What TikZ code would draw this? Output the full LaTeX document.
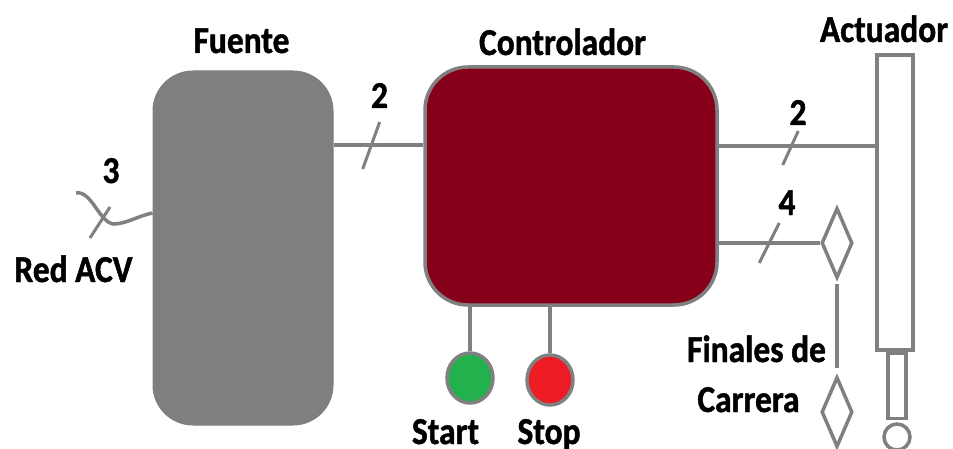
\documentclass[tikz,border=0pt]{standalone}
\usepackage{fontspec}
\setmainfont{Carlito}[FakeStretch=0.88, BoldFeatures={FakeBold=1.2}]
\usetikzlibrary{shapes.geometric}
\definecolor{wire}{RGB}{128,128,128}
\definecolor{psu}{RGB}{127,127,127}
\definecolor{ctrlred}{RGB}{134,0,25}
\definecolor{btngreen}{RGB}{34,177,76}
\definecolor{btnred}{RGB}{237,28,36}
\tikzset{
  wireline/.style={draw=wire, line width=3.5pt},
  lbl/.style={anchor=base, inner sep=0pt, font=\fontsize{38}{40}\selectfont\bfseries},
  diam/.style={diamond, draw=wire, line width=3.5pt, minimum width=31pt, minimum height=70pt, inner sep=0pt},
  btn/.style={ellipse, draw=wire, line width=3.5pt, minimum width=46pt, minimum height=50pt, inner sep=0pt},
}
\begin{document}
\begin{tikzpicture}[x=1pt, y=-1pt]
\useasboundingbox (0,0) rectangle (953,449);

% blocks
\node[rectangle, rounded corners=40pt, fill=psu, draw=psu, line width=1pt,
      minimum width=180pt, minimum height=354pt, inner sep=0pt] (fuente) at (243,248) {};
\node[rectangle, rounded corners=43pt, fill=ctrlred, draw=wire, line width=3.5pt,
      minimum width=292pt, minimum height=238pt, inner sep=0pt] (ctrl) at (571,186) {};
\node[rectangle, draw=wire, line width=3.5pt, minimum width=36pt, minimum height=295pt,
      inner sep=0pt] (act) at (895,202.5) {};
\node[rectangle, draw=wire, line width=3.5pt, minimum width=18pt, minimum height=65pt,
      inner sep=0pt, anchor=north] (rod) at (act.south -| 897,0) {};
\node[circle, draw=wire, line width=3.5pt, minimum size=26pt, inner sep=0pt] (eye) at (897,437) {};

% limit switches
\node[diam] (d1) at (837,243) {};
\node[diam] (d2) at (837,412) {};

% push buttons
\node[btn, fill=btngreen] (start) at (470,378) {};
\node[btn, fill=btnred] (stop) at (550,380) {};

% bus heights
\coordinate (bus1) at (0,145);
\coordinate (bus2) at (0,146);
\coordinate (acy) at (0,213);
\coordinate (acin) at (76,193);

% wiring
\draw[wireline] (fuente.east |- bus1) -- coordinate[pos=0.42] (s1) (ctrl.west |- bus1);
\draw[wireline] (ctrl.east |- bus2) -- coordinate[pos=0.46] (s2) (act.west |- bus2);
\draw[wireline] (ctrl.east |- d1.west) -- coordinate[pos=0.5] (s3) (d1.west);
\draw[wireline, shorten <=4pt, shorten >=7pt] (d1.south) -- (d2.north);
\draw[wireline] (start.north |- ctrl.south) -- (start.north);
\draw[wireline] (stop.north |- ctrl.south) -- (stop.north);
\draw[wireline] (acin) .. controls (92,190) and (100,225) .. (115,224)
                       .. controls (128,223) and (138,216) .. (fuente.west |- acy);
\coordinate (s0) at (100,222.5);

% bundle marks
\draw[wireline, line width=3pt] (s0) +(-10,15.5) -- +(10,-15.5);
\draw[wireline, line width=3pt] (s1) +(-8.5,24) -- +(8.5,-23);
\draw[wireline, line width=3pt] (s2) +(-8,19) -- +(7.5,-15);
\draw[wireline, line width=3pt] (s3) +(-10,20) -- +(10,-20);

% labels
\node[lbl] (tfuente) at (241.5,53) {Fuente};
\node[lbl] (tctrl) at (562.5,55) {Controlador};
\node[lbl] (tact) at (884,42) {Actuador};
\node[lbl] (n1) at (379.5,108) {2};
\node[lbl] (n0) at (111,183) {3};
\node[lbl] (tred) at (73.5,282) {Red ACV};
\node[lbl] (n2) at (798,125) {2};
\node[lbl] (n3) at (787,215) {4};
\node[lbl] (tfin1) at (756.5,362) {Finales de};
\node[lbl] (tfin2) at (748.5,412) {Carrera};
\node[lbl] (tstart) at (445.5,444) {Start};
\node[lbl] (tstop) at (549,444) {Stop};
\end{tikzpicture}
\end{document}
